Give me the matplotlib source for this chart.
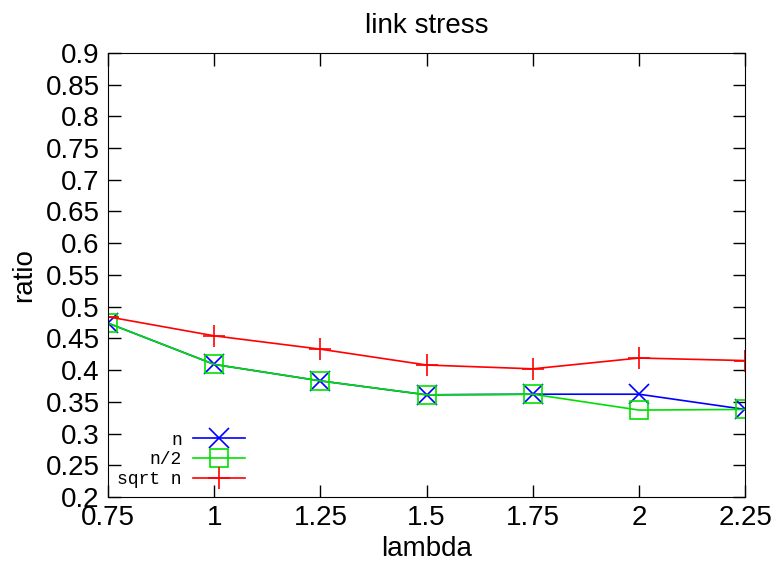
import matplotlib
matplotlib.use("Agg")
import matplotlib.pyplot as plt

# data
lam = [0.75, 1.0, 1.25, 1.5, 1.75, 2.0, 2.25]
ratio_n = [0.474, 0.409, 0.383, 0.361, 0.362, 0.362, 0.338]
ratio_half = [0.474, 0.409, 0.383, 0.361, 0.362, 0.337, 0.338]
ratio_sqrt = [0.484, 0.454, 0.433, 0.408, 0.402, 0.419, 0.415]

xticks = [0.75, 1, 1.25, 1.5, 1.75, 2, 2.25]
xlabels = ["0.75", "1", "1.25", "1.5", "1.75", "2", "2.25"]
yticks = [0.2, 0.25, 0.3, 0.35, 0.4, 0.45, 0.5, 0.55, 0.6, 0.65, 0.7, 0.75, 0.8, 0.85, 0.9]

plt.rcParams['font.family'] = ['Liberation Sans', 'DejaVu Sans']

fig = plt.figure(figsize=(7.77, 5.68), dpi=100)
ax = fig.add_axes([0.139, 0.125, 0.82, 0.782])

ax.plot(lam, ratio_n, color="blue", marker="x", markersize=14, markeredgewidth=1.2, linewidth=1.2, label="n")
ax.plot(lam, ratio_half, color="#00e000", marker="s", markersize=13, markerfacecolor="none", markeredgewidth=1.2, linewidth=1.2, label="n/2")
ax.plot(lam, ratio_sqrt, color="red", marker="+", markersize=16, markeredgewidth=1.2, linewidth=1.2, label="sqrt n")

ax.set_xlim(0.75, 2.25)
ax.set_ylim(0.2, 0.9)
ax.set_xticks(xticks)
ax.set_xticklabels(xlabels)
ax.set_yticks(yticks)
ax.set_yticklabels([f"{v:g}" for v in yticks])
ax.tick_params(direction="in", length=9, width=1, top=True, right=True, labelsize=20, pad=6)

ax.set_title("link stress", fontsize=20, pad=14)
ax.set_xlabel("lambda", fontsize=20, labelpad=3)
ax.set_ylabel("ratio", fontsize=20, labelpad=6)

# legend: text right-aligned, sample on the right (gnuplot style)
ax.legend(loc="lower right", bbox_to_anchor=(0.215, 0.02), frameon=False, markerfirst=False,
          prop={"family": "Liberation Mono", "size": 13}, handlelength=2.9,
          handletextpad=0.6, labelspacing=0.15, borderpad=0, borderaxespad=0)

fig.savefig("out.png", dpi=100)
